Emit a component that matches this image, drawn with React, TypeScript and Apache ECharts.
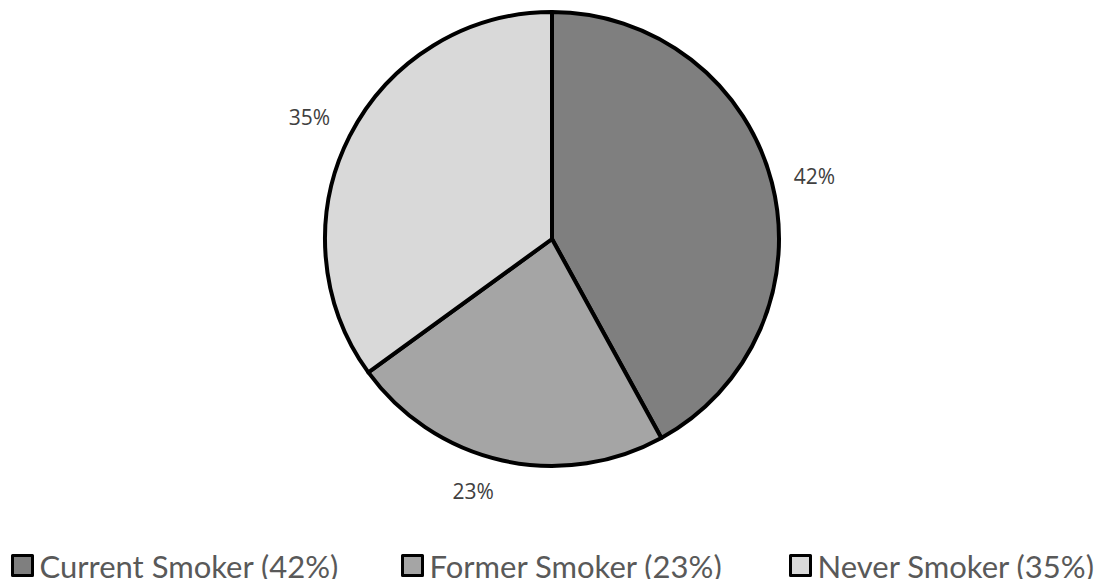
import React, { useEffect, useRef } from "react";
import * as echarts from "echarts";

const categories = ["Current Smoker (42%)", "Former Smoker (23%)", "Never Smoker (35%)"];
const values = [42, 23, 35];
const colors = ["#7f7f7f", "#a5a5a5", "#d9d9d9"];
const labelOffsets = [[1, 4], [-20, -11], [-2, 1]];
const legendLefts = [11, 401, 789];

export default function App() {
  const ref = useRef<HTMLDivElement>(null);
  useEffect(() => {
    if (!ref.current) return;
    const chart = echarts.init(ref.current, null, { renderer: "svg" });
    const data = categories.map((name, i) => ({
      name,
      value: values[i],
      itemStyle: { color: colors[i] },
    }));
    const legends = categories.map((name, i) => ({
      data: [name],
      left: legendLefts[i],
      top: 550,
      icon: "rect",
      itemWidth: 20,
      itemHeight: 20,
      itemGap: 0,
      padding: 0,
      itemStyle: { borderColor: "#000000", borderWidth: 3 },
      textStyle: {
        fontFamily: "Lato, 'Open Sans', sans-serif",
        fontSize: 31,
        color: "#595959",
        padding: [0, 0, 0, 2],
      },
      selectedMode: false,
    }));
    chart.setOption({
      animation: false,
      backgroundColor: "#ffffff",
      legend: legends,
      series: [
        {
          type: "pie",
          center: [552, 239],
          radius: 227,
          startAngle: 90,
          clockwise: true,
          silent: true,
          label: { show: false },
          labelLine: { show: false },
          itemStyle: { borderColor: "#000000", borderWidth: 4 },
          data,
        },
        {
          type: "pie",
          center: [552, 239],
          radius: [247, 287],
          startAngle: 90,
          clockwise: true,
          silent: true,
          itemStyle: { color: "transparent", borderWidth: 0 },
          label: {
            show: true,
            position: "inside",
            formatter: "{c}%",
            fontFamily: "'Open Sans', sans-serif",
            fontSize: 21,
            color: "#404040",
          },
          labelLine: { show: false },
          data: categories.map((name, i) => ({
            name,
            value: values[i],
            label: { offset: labelOffsets[i] },
          })),
        },
      ],
    });
    return () => chart.dispose();
  }, []);
  return (
    <div
      ref={ref}
      style={{ position: "fixed", left: 0, top: 0, width: 1107, height: 579 }}
    />
  );
}
